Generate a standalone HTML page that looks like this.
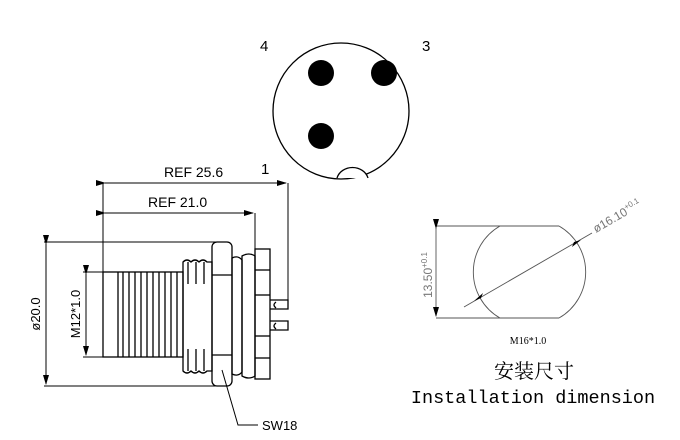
<!DOCTYPE html>
<html><head><meta charset="utf-8"><style>body{margin:0;background:#fff}svg{display:block}</style></head><body>
<svg width="680" height="440" viewBox="0 0 680 440" xmlns="http://www.w3.org/2000/svg" font-family="Liberation Sans, sans-serif">
<defs><marker id="a" markerWidth="10" markerHeight="6" refX="9" refY="3" orient="auto" markerUnits="userSpaceOnUse"><path d="M0,0L10,3L0,6z" fill="#000"/></marker></defs>
<!-- top circle -->
<g stroke="#000" stroke-width="1.3" fill="none">
<circle cx="341" cy="111" r="68"/>
<path d="M337,178 A16,14 0 0 1 368,178" fill="#fff"/>
</g>
<circle cx="321" cy="73" r="13"/><circle cx="384" cy="73" r="13"/><circle cx="321" cy="136" r="13"/>
<text x="260" y="51" font-size="15">4</text><text x="422" y="51" font-size="15">3</text><text x="261" y="174" font-size="15">1</text>
<!-- dims left -->
<g stroke="#000" stroke-width="1" fill="none">
<line x1="103" y1="183" x2="103" y2="272"/><line x1="288" y1="183" x2="288" y2="305"/>
<line x1="105" y1="183" x2="286" y2="183" marker-start="url(#a)" marker-end="url(#a)"/>
<line x1="255" y1="213" x2="255" y2="249"/>
<line x1="105" y1="213" x2="253" y2="213" marker-start="url(#a)" marker-end="url(#a)"/>
<line x1="44" y1="242" x2="222" y2="242"/><line x1="44" y1="386" x2="222" y2="386"/>
<line x1="46" y1="244" x2="46" y2="384" marker-start="url(#a)" marker-end="url(#a)"/>
<line x1="83" y1="272" x2="103" y2="272"/><line x1="83" y1="357" x2="103" y2="357"/>
<line x1="86" y1="274" x2="86" y2="355" marker-start="url(#a)" marker-end="url(#a)"/>
<polyline points="222,370 238,425 258,425"/>
</g>
<text x="164" y="177" font-size="14">REF  25.6</text>
<text x="148" y="207" font-size="14">REF  21.0</text>
<text transform="translate(40,314) rotate(-90)" text-anchor="middle" font-size="13">ø20.0</text>
<text transform="translate(80,314) rotate(-90)" text-anchor="middle" font-size="13">M12*1.0</text>
<text x="262" y="430" font-size="13">SW18</text>
<!-- body -->
<g stroke="#000" stroke-width="1.3" fill="none">
<rect x="103" y="272" width="80" height="85"/>
<line x1="118" y1="272" x2="118" y2="357"/>
<path d="M123,272 V357 M129,272 V357 M135,272 V357 M141,272 V357 M147,272 V357 M153,272 V357 M159,272 V357 M165,272 V357 M171,272 V357 M177,272 V357"/>
<path d="M183,262 q4,-4 8,0 q4,-4 8,0 q4,-4 8,0 h5 V371 h-5 q-4,4 -8,0 q-4,4 -8,0 q-4,4 -8,0 z"/>
<path d="M188,262 v22 M196,262 v22 M204,262 v22 M188,349 v22 M196,349 v22 M204,349 v22"/>
<rect x="212" y="242" width="20" height="144" rx="5"/>
<line x1="212" y1="275" x2="232" y2="275"/><line x1="212" y1="355" x2="232" y2="355"/>
<path d="M232,258 q6,-3 10,2 V372 q-4,5 -10,2 z"/>
<path d="M242,256 q7,-4 13,0 V376 q-6,4 -13,0 z"/>
<rect x="255" y="249" width="15" height="130"/>
<line x1="255" y1="270" x2="270" y2="270"/><line x1="255" y1="295" x2="270" y2="295"/><line x1="255" y1="336" x2="270" y2="336"/><line x1="255" y1="358" x2="270" y2="358"/>
<path d="M270,300 h18 v9 h-18 M270,321 h18 v9 h-18"/>
<path d="M276,302 q-4,3 0,6 M276,323 q-4,3 0,6"/>
</g>
<!-- installation -->
<g stroke="#555" stroke-width="0.9" fill="none">
<line x1="436" y1="226" x2="500" y2="226"/><line x1="436" y1="318" x2="500" y2="318"/>
<line x1="500" y1="226" x2="559" y2="226"/><line x1="500" y1="318" x2="559" y2="318"/>
<path d="M500,226 A53,53 0 0 0 500,318 M559,226 A53,53 0 0 1 559,318"/>
<line x1="436" y1="228" x2="436" y2="316" marker-start="url(#a)" marker-end="url(#a)"/>
<line x1="464" y1="307" x2="592" y2="233"/>
</g>
<path d="M474,301 l9,-8 -2,5z M581,240 l-9,7 2,-5z" fill="#000"/>
<text transform="translate(432,275) rotate(-90)" text-anchor="middle" font-size="12" fill="#777">13.50<tspan font-size="8" dy="-5">+0.1</tspan></text>
<text transform="translate(596,233) rotate(-30)" font-size="12" fill="#777">ø16.10<tspan font-size="8" dy="-5">+0.1</tspan></text>
<text x="528" y="344" text-anchor="middle" font-size="10" font-family="Liberation Serif, serif">M16*1.0</text>
<text x="534" y="378" text-anchor="middle" font-size="20" font-family="Liberation Serif, Noto Serif CJK SC, serif">安装尺寸</text>
<text x="533" y="403" text-anchor="middle" font-size="18.5" font-family="Liberation Mono, monospace">Installation dimension</text>
</svg>
</body></html>
